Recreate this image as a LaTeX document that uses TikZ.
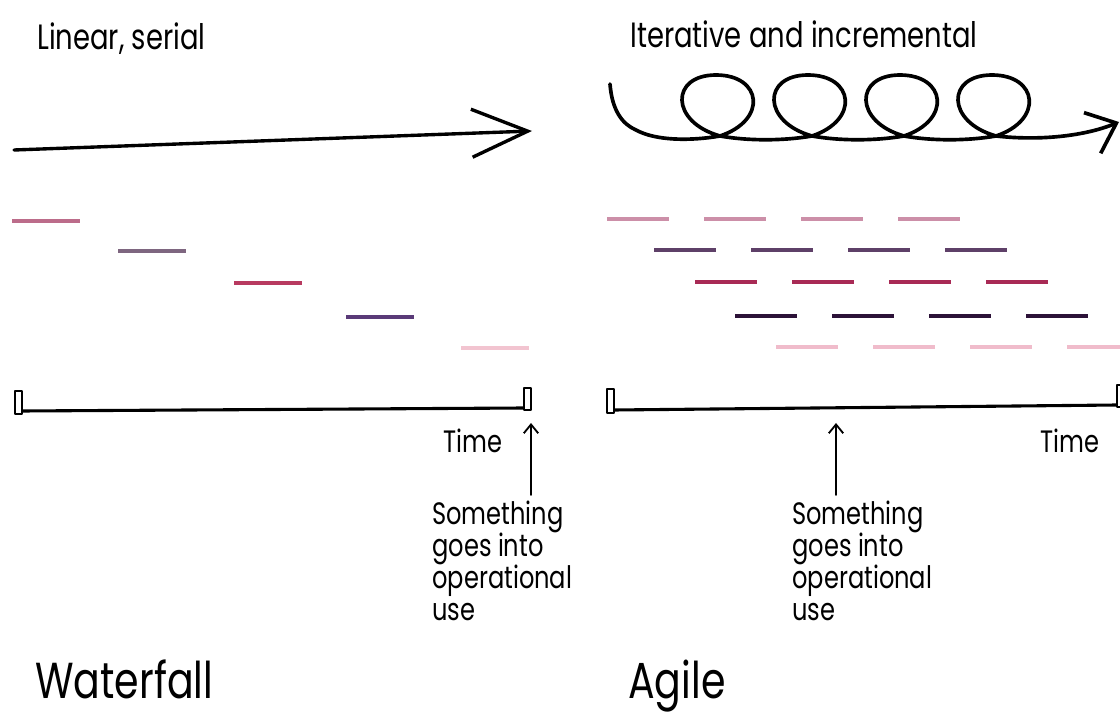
\documentclass[tikz,border=0pt]{standalone}
\usepackage{fontspec}
\setmainfont{Poppins}[FakeStretch=0.78]
\usetikzlibrary{arrows.meta}

% bar colours, top row to bottom row
\definecolor{wfA}{HTML}{BC6C8A}
\definecolor{wfB}{HTML}{7E6680}
\definecolor{wfC}{HTML}{B83A60}
\definecolor{wfD}{HTML}{5A3A78}
\definecolor{wfE}{HTML}{F2C4D0}
\definecolor{agA}{HTML}{CC8FA8}
\definecolor{agB}{HTML}{5E4068}
\definecolor{agC}{HTML}{A82A55}
\definecolor{agD}{HTML}{2C1238}
\definecolor{agE}{HTML}{F0BCCB}

\tikzset{
  heading/.style={inner sep=0pt, font=\fontsize{25}{28}\selectfont},
  label/.style={inner sep=0pt, font=\fontsize{22}{22.7}\selectfont},
  note/.style={label, align=left, anchor=north west},
  big/.style={inner sep=0pt, anchor=base west, font=\fontsize{36}{42}\selectfont},
  flow/.style={line width=2.4pt, -{Straight Barb[length=1.4cm,width=1.2cm]}},
  spiral/.style={line width=2.6pt, -{Straight Barb[length=0.65cm,width=1.1cm]}},
  task/.style={line width=2.6pt, line cap=butt},
  timeline/.style={line width=2.2pt, line cap=butt},
  post/.style={line width=1.8pt, fill=white},
  upmark/.style={line width=1.3pt, -{Straight Barb[length=0.22cm,width=0.36cm]}}
}

\begin{document}
\begin{tikzpicture}[x=0.025cm, y=-0.025cm, line join=round, line cap=round]
\useasboundingbox (0,0) rectangle (1120,715);

\path
  (14,150) coordinate (wfStart)
  (532,131) coordinate (wfEnd)
  (610,84) coordinate (agStart)
  (1119,122) coordinate (agEnd)
  (22,411) coordinate (wfAxisL)
  (524,408) coordinate (wfAxisR)
  (614,410) coordinate (agAxisL)
  (1117,405) coordinate (agAxisR)
  (531,495) coordinate (wfFoot)
  (531,423) coordinate (wfTip)
  (836,495) coordinate (agFoot)
  (836,423) coordinate (agTip)
  ;

% headings
\node[heading, anchor=base west] (linear) at (37,50) {Linear, serial};
\node[heading, anchor=base west] (iterative) at (630,48) {Iterative and incremental};

% straight arrow, then the looping one
\draw[flow] (wfStart) -- (wfEnd);
\draw[spiral] (agStart) .. controls (612,110) and (622,124) .. (636,130)
  foreach \c in {716,808,900,992} {
    .. controls (\c-60,141) and (\c-25,141) .. (\c+4,136)
    .. controls (\c+52,120) and (\c+46,75) .. (\c,75)
    .. controls (\c-46,75) and (\c-46,122) .. (\c+4,136)
  }
  .. controls (1040,141) and (1085,136) .. (agEnd);

% waterfall bars
\foreach \x/\y/\c in {12/221/wfA, 118/251/wfB, 234/283/wfC, 346/317/wfD, 461/348/wfE}
  \draw[task, \c] (\x,\y) -- ++(68,0);

% agile bars, four per row
\foreach \x/\y/\c in {607/219/agA, 654/250/agB, 695/282/agC, 735/316/agD, 776/347/agE}
  \foreach \i in {0,...,3}
    \draw[task, \c] (\x+\i*97,\y) -- ++(62,0);

% time axes
\draw[timeline] (wfAxisL) -- (wfAxisR);
\draw[post] (15,391) rectangle (22,414);
\draw[post] (524,388) rectangle (531,410);
\draw[timeline] (agAxisL) -- (agAxisR);
\draw[post] (607,389) rectangle (614,413);
\draw[post] (1117,385) rectangle (1124,407);

\node[label, anchor=base west] (wfTime) at (443,452) {Time};
\node[label, anchor=base west] (agTime) at (1040,452) {Time};

% release markers
\draw[upmark] (wfFoot) -- (wfTip);
\draw[upmark] (agFoot) -- (agTip);
\node[note] (wfNote) at (432,501) {Something\\goes into\\operational\\use};
\node[note] (agNote) at (792,501) {Something\\goes into\\operational\\use};

\node[big] (waterfall) at (35,698) {Waterfall};
\node[big] (agile) at (628,698) {Agile};
\end{tikzpicture}
\end{document}
